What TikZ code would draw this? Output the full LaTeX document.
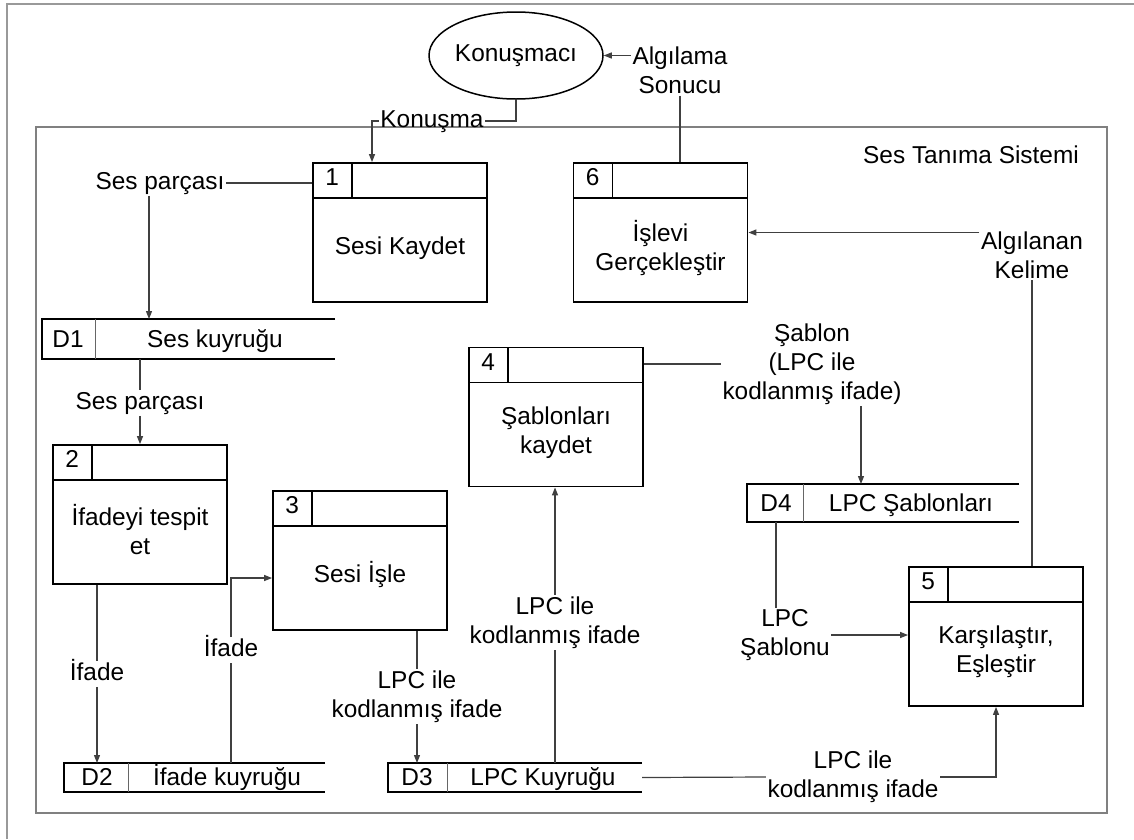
\documentclass[tikz,border=0pt]{standalone}
\usepackage{fontspec}
\setmainfont{Liberation Sans}
\usetikzlibrary{arrows.meta,calc,shapes.geometric}
\begin{document}
\begin{tikzpicture}[x=1pt,y=-1pt,
  every node/.style={font=\fontsize{24.4}{29}\selectfont},
  one/.style={text height=17.5pt,text depth=5pt},
  proc/.style={draw=black,line width=1.8pt,minimum width=174pt,minimum height=139pt,inner sep=0pt,
    path picture={
      \draw[line width=1.8pt] ([yshift=-35pt]path picture bounding box.north west) -- ([yshift=-35pt]path picture bounding box.north east);
      \draw[line width=1.8pt] ([xshift=39pt]path picture bounding box.north west) -- ([xshift=39pt,yshift=-35pt]path picture bounding box.north west);
    }},
  storebox/.style={draw=none,inner sep=0pt,outer sep=0pt},
  storeline/.style={draw=black,line width=1.8pt},
  divline/.style={draw=black!60,line width=1pt},
  lab/.style={inner sep=1.5pt,align=center},
  conn/.style={draw=black!75,line width=1.2pt},
  arr/.style={conn,-{Triangle[length=8pt,width=6pt]}}]
\useasboundingbox (0,0) rectangle (1134,839);

% outer sheet frame and system boundary
\draw[black!40,line width=1.8pt] (7,839) -- (7,4) -- (1134,4);
\node[draw=black!50,line width=1.5pt,minimum width=1071pt,minimum height=686pt,inner sep=0pt] (sys) at (571.5,470) {};
\node[one] (lsys) at (971,157) {Ses Tanıma Sistemi};

% external entity
\node[ellipse,draw=black,line width=1.5pt,minimum width=174pt,minimum height=87pt,inner sep=0pt,one] (sp) at (516,55.5) {Konuşmacı};

% processes
\node[proc] (p1) at (400,232.5) {};
\node[one] (p1n) at ($(p1.north west)+(20,17.5)$) {1};
\node[align=center,one] (p1t) at ($(p1.center)+(0,15.5)$) {Sesi Kaydet};

\node[proc] (p6) at (660.5,232.5) {};
\node[one] (p6n) at ($(p6.north west)+(20,17.5)$) {6};
\node[align=center] (p6t) at ($(p6.center)+(0,15.5)$) {İşlevi\\Gerçekleştir};

\node[proc] (p4) at (556,417) {};
\node[one] (p4n) at ($(p4.north west)+(20,17.5)$) {4};
\node[align=center] (p4t) at ($(p4.center)+(0,15.5)$) {Şablonları\\kaydet};

\node[proc] (p2) at (140,514.5) {};
\node[one] (p2n) at ($(p2.north west)+(20,17.5)$) {2};
\node[align=center] (p2t) at ($(p2.center)+(0,15.5)$) {İfadeyi tespit\\et};

\node[proc] (p3) at (360,560.5) {};
\node[one] (p3n) at ($(p3.north west)+(20,17.5)$) {3};
\node[align=center,one] (p3t) at ($(p3.center)+(0,15.5)$) {Sesi İşle};

\node[proc] (p5) at (996,636.5) {};
\node[one] (p5n) at ($(p5.north west)+(20,17.5)$) {5};
\node[align=center] (p5t) at ($(p5.center)+(0,15.5)$) {Karşılaştır,\\Eşleştir};

% data stores (open on the right)
\node[storebox,minimum width=293pt,minimum height=40pt] (d1) at (188.5,339) {};
\draw[storeline] (d1.north east) -- (d1.north west) -- (d1.south west) -- (d1.south east);
\draw[divline] ($(d1.north west)+(53,0)$) -- ($(d1.south west)+(53,0)$);
\node[one] (d1n) at (68,341) {D1};
\node[one] (d1t) at (215,341) {Ses kuyruğu};

\node[storebox,minimum width=261pt,minimum height=29pt] (d2) at (194.5,777.5) {};
\draw[storeline] (d2.north east) -- (d2.north west) -- (d2.south west) -- (d2.south east);
\draw[divline] ($(d2.north west)+(64,0)$) -- ($(d2.south west)+(64,0)$);
\node[one] (d2n) at (97,779) {D2};
\node[one] (d2t) at (227,779) {İfade kuyruğu};

\node[storebox,minimum width=254pt,minimum height=29pt] (d3) at (515,777.5) {};
\draw[storeline] (d3.north east) -- (d3.north west) -- (d3.south west) -- (d3.south east);
\draw[divline] ($(d3.north west)+(59,0)$) -- ($(d3.south west)+(59,0)$);
\node[one] (d3n) at (417,779) {D3};
\node[one] (d3t) at (543,779) {LPC Kuyruğu};

\node[storebox,minimum width=272pt,minimum height=38pt] (d4) at (883,503) {};
\draw[storeline] (d4.north east) -- (d4.north west) -- (d4.south west) -- (d4.south east);
\draw[divline] ($(d4.north west)+(56,0)$) -- ($(d4.south west)+(56,0)$);
\node[one] (d4n) at (776,505) {D4};
\node[one] (d4t) at (911,505) {LPC Şablonları};

% flow labels
\node[lab] (lalg) at (680,70.5) {Algılama\\Sonucu};
\node[lab,one] (lkon) at (432,121) {Konuşma};
\node[lab,one] (lsp1) at (160,183) {Ses parçası};
\node[lab,one] (lsp2) at (140,403) {Ses parçası};
\node[lab,one] (lif1) at (97,674) {İfade};
\node[lab,one] (lif2) at (231,650) {İfade};
\node[lab] (llpc1) at (417,696.5) {LPC ile\\kodlanmış ifade};
\node[lab] (llpc2) at (555,622.5) {LPC ile\\kodlanmış ifade};
\node[lab] (lsab) at (812,364) {Şablon\\(LPC ile\\kodlanmış ifade)};
\node[lab] (lsab2) at (785,635) {LPC\\Şablonu};
\node[lab] (lalk) at (1032,255) {Algılanan\\Kelime};
\node[lab] (llpc3) at (853,777) {LPC ile\\kodlanmış ifade};

% data flows
\draw[arr] (lalg.west |- sp.east) -- (sp.east);
\draw[conn] (lalg.south) -- (lalg.south |- p6.north);
\draw[conn] (sp.south) |- (lkon.east);
\draw[arr] (lkon.west) -| ($(p1.north)+(-28,0)$);

\draw[conn] (lsp1.east) -- (lsp1.east -| p1.west);
\coordinate (k1) at ($(lsp1.south)+(-11,0)$);
\draw[arr] (k1) -- (k1 |- d1.north);

\draw[conn] (lsp2.north |- d1.south) -- (lsp2.north);
\draw[arr] (lsp2.south) -- (p2.north);

\draw[conn] (lif1.north |- p2.south) -- (lif1.north);
\draw[arr] (lif1.south) -- (lif1.south |- d2.north);

\draw[conn] (lif2.south |- d2.north) -- (lif2.south);
\draw[arr] (lif2.north) |- ($(p3.west)+(0,17.5)$);

\draw[conn] (llpc1.north |- p3.south) -- (llpc1.north);
\draw[arr] (llpc1.south) -- (llpc1.south |- d3.north);

\draw[conn] (llpc2.south |- d3.north) -- (llpc2.south);
\draw[arr] (llpc2.north) -- (llpc2.north |- p4.south);

\draw[conn] (lsab.west) -- (lsab.west -| p4.east);
\coordinate (k2) at ($(lsab.south)+(49,0)$);
\draw[arr] (k2) -- (k2 |- d4.north);

\coordinate (k3) at ($(lsab2.north)+(-9,0)$);
\draw[conn] (k3 |- d4.south) -- (k3);
\draw[arr] (lsab2.east) -- (lsab2.east -| p5.west);

\draw[arr] (lalk.west |- p6.east) -- (p6.east);
\draw[conn] (lalk.south) -- (lalk.south |- p5.north);

\draw[conn] (d3.east) -- (llpc3.west);
\draw[arr] (llpc3.east) -| (p5.south);
\end{tikzpicture}
\end{document}
